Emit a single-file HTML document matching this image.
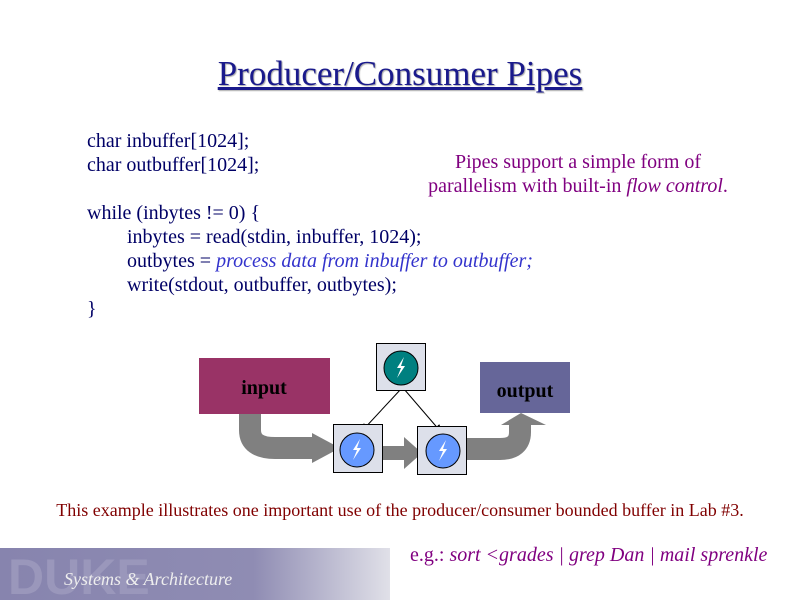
<!DOCTYPE html>
<html><head><style>
body{margin:0;width:800px;height:600px;background:#fff;position:relative;overflow:hidden;font-family:"Liberation Serif",serif}
.t{position:absolute;white-space:nowrap}
.c{font-size:20px;color:#000066}
.p{color:#800080;font-size:20px}
</style></head><body>
<div class="t" style="left:0;width:800px;text-align:center;top:54px;font-size:35px;color:#1a1a8c;text-decoration:underline;text-shadow:1px 1px 1px #aaa">Producer/Consumer Pipes</div>
<div class="t c" style="left:87px;top:130px">char inbuffer[1024];</div>
<div class="t c" style="left:87px;top:154px">char outbuffer[1024];</div>
<div class="t c" style="left:87px;top:202px">while (inbytes != 0) {</div>
<div class="t c" style="left:127px;top:226px">inbytes = read(stdin, inbuffer, 1024);</div>
<div class="t c" style="left:127px;top:250px">outbytes = <i style="color:#3333cc">process data from inbuffer to outbuffer;</i></div>
<div class="t c" style="left:127px;top:274px">write(stdout, outbuffer, outbytes);</div>
<div class="t c" style="left:87px;top:298px">}</div>
<div class="t p" style="left:418px;width:320px;text-align:center;top:150px;line-height:24px">Pipes support a simple form of<br>parallelism with built-in <i>flow control</i>.</div>
<svg style="position:absolute;left:0;top:0" width="800" height="600">
<defs><marker id="a" markerWidth="8" markerHeight="8" refX="7" refY="4" orient="auto"><path d="M0,0L8,4L0,8z" fill="#000"/></marker></defs>
<path d="M250,413 V430 Q250,448 275,448 H312" stroke="#808080" stroke-width="22" fill="none"/>
<path d="M312,433 L340,448 L312,463z" fill="#808080"/>
<rect x="376" y="446" width="30" height="14" fill="#808080"/><path d="M404,437 L422,453 L404,469z" fill="#808080"/>
<path d="M467,449 H500 Q520,449 520,432 V420" stroke="#808080" stroke-width="22" fill="none"/>
<path d="M501,425 L521,413 L546,425z" fill="#808080"/>
<rect x="199" y="358" width="131" height="56" fill="#993366"/>
<text x="264" y="394" text-anchor="middle" font-weight="bold" font-size="20" font-family="Liberation Serif">input</text>
<rect x="480" y="362" width="90" height="51" fill="#666699"/>
<text x="525" y="397" text-anchor="middle" font-weight="bold" font-size="20" font-family="Liberation Serif">output</text>
<line x1="401" y1="389" x2="362" y2="431" stroke="#000" stroke-width="1" marker-end="url(#a)"/>
<line x1="404" y1="389" x2="441" y2="432" stroke="#000" stroke-width="1" marker-end="url(#a)"/>
<g stroke="#000" stroke-width="1">
<rect x="376.5" y="343.5" width="49" height="47" fill="#dde0ea"/>
<circle cx="401" cy="368" r="17" fill="#008080"/>
<rect x="333.5" y="424.5" width="49" height="48" fill="#dde0ea"/>
<circle cx="357" cy="450" r="17" fill="#6699ff"/>
<rect x="417.5" y="426.5" width="49" height="48" fill="#dde0ea"/>
<circle cx="443" cy="451" r="17" fill="#6699ff"/>
</g>
<g fill="#fff"><path d="M404,357 L397,368 L401,368 L397,378 L405,366 L401,366z"/>
<path d="M360,439 L353,450 L357,450 L353,460 L361,448 L357,448z"/>
<path d="M446,440 L439,451 L443,451 L439,461 L447,449 L443,449z"/></g>
<defs><linearGradient id="g" x1="0" x2="1"><stop offset="0" stop-color="#8784ae"/><stop offset="0.65" stop-color="#8f8cb3"/><stop offset="1" stop-color="#e0e0e8"/></linearGradient></defs>
<rect x="0" y="548" width="390" height="52" fill="url(#g)"/>
<text x="8" y="594" font-size="50" font-weight="bold" fill="#9a97bb" font-family="Liberation Sans">DUKE</text>
<text x="64" y="585" font-size="18" font-style="italic" fill="#eee" font-family="Liberation Serif">Systems &amp; Architecture</text>
</svg>
<div class="t" style="left:0;width:800px;text-align:center;top:500px;font-size:18px;color:#800000">This example illustrates one important use of the producer/consumer bounded buffer in Lab #3.</div>
<div class="t p" style="left:410px;top:544px">e.g.: <i>sort &lt;grades | grep Dan | mail sprenkle</i></div>
</body></html>
